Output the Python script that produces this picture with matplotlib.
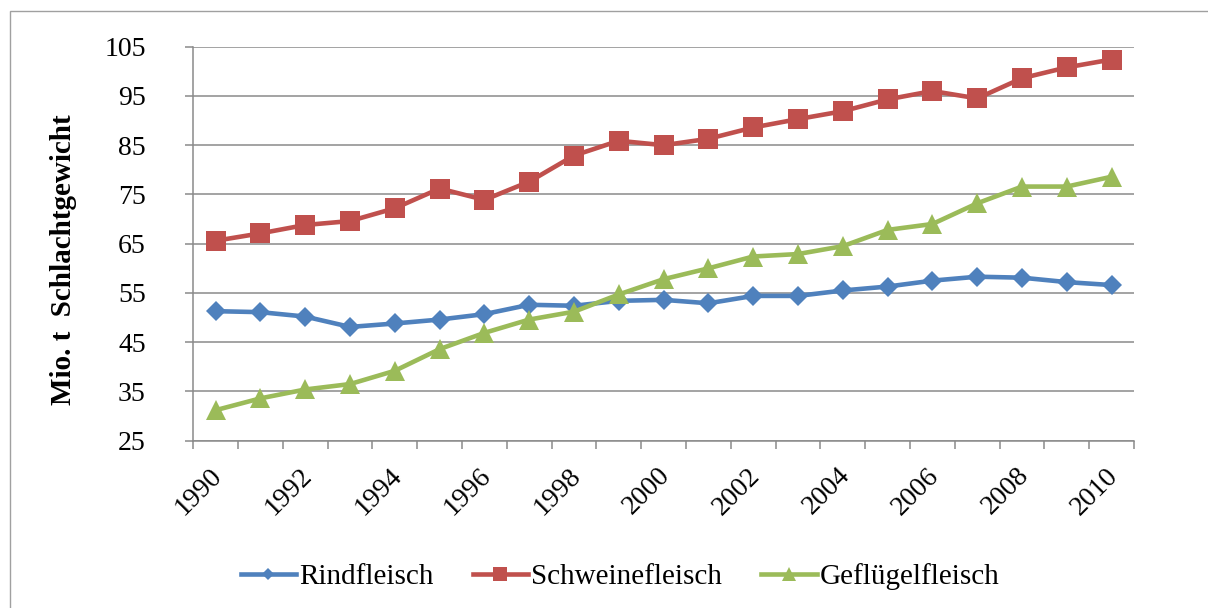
import matplotlib
matplotlib.use("Agg")
import matplotlib.pyplot as plt
from matplotlib.patches import Rectangle
from matplotlib.transforms import ScaledTranslation
import numpy as np

years = list(range(1990, 2011))
rindfleisch = [51.3, 51.1, 50.2, 48.1, 48.8, 49.6, 50.7, 52.6, 52.4, 53.4, 53.6,
               52.9, 54.4, 54.4, 55.5, 56.3, 57.5, 58.3, 58.1, 57.2, 56.6]
schweinefleisch = [65.6, 67.1, 68.8, 69.6, 72.2, 76.2, 73.9, 77.6, 82.9, 85.9, 85.0,
                   86.3, 88.6, 90.3, 91.9, 94.3, 96.0, 94.5, 98.6, 100.8, 102.4]
gefluegelfleisch = [31.2, 33.6, 35.4, 36.5, 39.2, 43.6, 46.9, 49.6, 51.2, 54.7, 57.8,
                    60.0, 62.4, 62.9, 64.5, 67.8, 69.0, 73.2, 76.6, 76.6, 78.6]
series_names = ["Rindfleisch", "Schweinefleisch", "Geflügelfleisch"]
y_ticks = [25, 35, 45, 55, 65, 75, 85, 95, 105]
y_label = "Mio. t  Schlachtgewicht"

plt.rcParams['font.family'] = ['Liberation Serif', 'DejaVu Serif']

W, H = 1208, 608
fig = plt.figure(figsize=(W / 100, H / 100), dpi=100)
ax = fig.add_axes([193.3 / W, 1 - 440.7 / H, (1134 - 193.3) / W, (440.7 - 46.7) / H])

x = np.arange(len(years))
grid_c = '#8a8a8a'
ax.set_ylim(25, 105)
ax.set_xlim(-0.5, len(years) - 0.5)
ax.set_yticks(y_ticks)
ax.grid(axis='y', color=grid_c, lw=1.1, zorder=0)
ax.set_axisbelow(True)

styles = [
    (rindfleisch, '#4F81BD', 'D', 9.8),
    (schweinefleisch, '#C0504D', 's', 14.5),
    (gefluegelfleisch, '#9BBB59', '^', 14.5),
]
handles = []
for (vals, col, mk, ms), name in zip(styles, series_names):
    h, = ax.plot(x, vals, color=col, lw=3.3, marker=mk, ms=ms, mew=0,
                 label=name, zorder=3, clip_on=False)
    handles.append(h)

for s in ['top', 'right']:
    ax.spines[s].set_visible(False)
for s in ['left', 'bottom']:
    ax.spines[s].set_color(grid_c)
    ax.spines[s].set_linewidth(1.1)

ax.tick_params(axis='y', direction='out', length=5.8, width=1.1, color=grid_c,
               labelsize=20, pad=28.5)
# x: category boundary ticks (minor), labels every other year (major)
ax.set_xticks(np.arange(-0.5, len(years), 1.0), minor=True)
ax.set_xticks(x[::2])
ax.set_xticklabels([str(y) for y in years[::2]], rotation=45, ha='right',
                   va='center', rotation_mode='anchor')
ax.tick_params(axis='x', which='minor', direction='out', length=5.8, width=1.1,
               color=grid_c)
ax.tick_params(axis='x', which='major', length=0, labelsize=20, pad=23.4)

fig.text(64 / W, 1 - 260 / H, y_label, rotation=90, ha='center', va='center',
         fontsize=21, fontweight='bold')

fig.legend(handles=handles, loc='center', bbox_to_anchor=(620 / W, 1 - 577 / H),
           ncol=3, frameon=False, fontsize=21, handlelength=1.9,
           handletextpad=0.1, columnspacing=1.35, markerscale=0.65)

fig.patches.append(Rectangle((10 / W, -0.1), 2, 1 - 11 / H + 0.1,
                             transform=fig.transFigure, fill=False,
                             edgecolor='#a0a0a0', lw=1.0))

# align rotated year labels to the reference placement (first label box centre)
fig.canvas.draw()
renderer = fig.canvas.get_renderer()
labs = ax.xaxis.get_majorticklabels()
bb = labs[0].get_window_extent(renderer)
target_cx, target_cy = 199.0, H - 491.5
dx = target_cx - (bb.x0 + bb.x1) / 2
dy = target_cy - (bb.y0 + bb.y1) / 2
offset = ScaledTranslation(dx / 100, dy / 100, fig.dpi_scale_trans)
for lab in labs:
    lab.set_transform(lab.get_transform() + offset)

fig.savefig('out.png', dpi=100)
